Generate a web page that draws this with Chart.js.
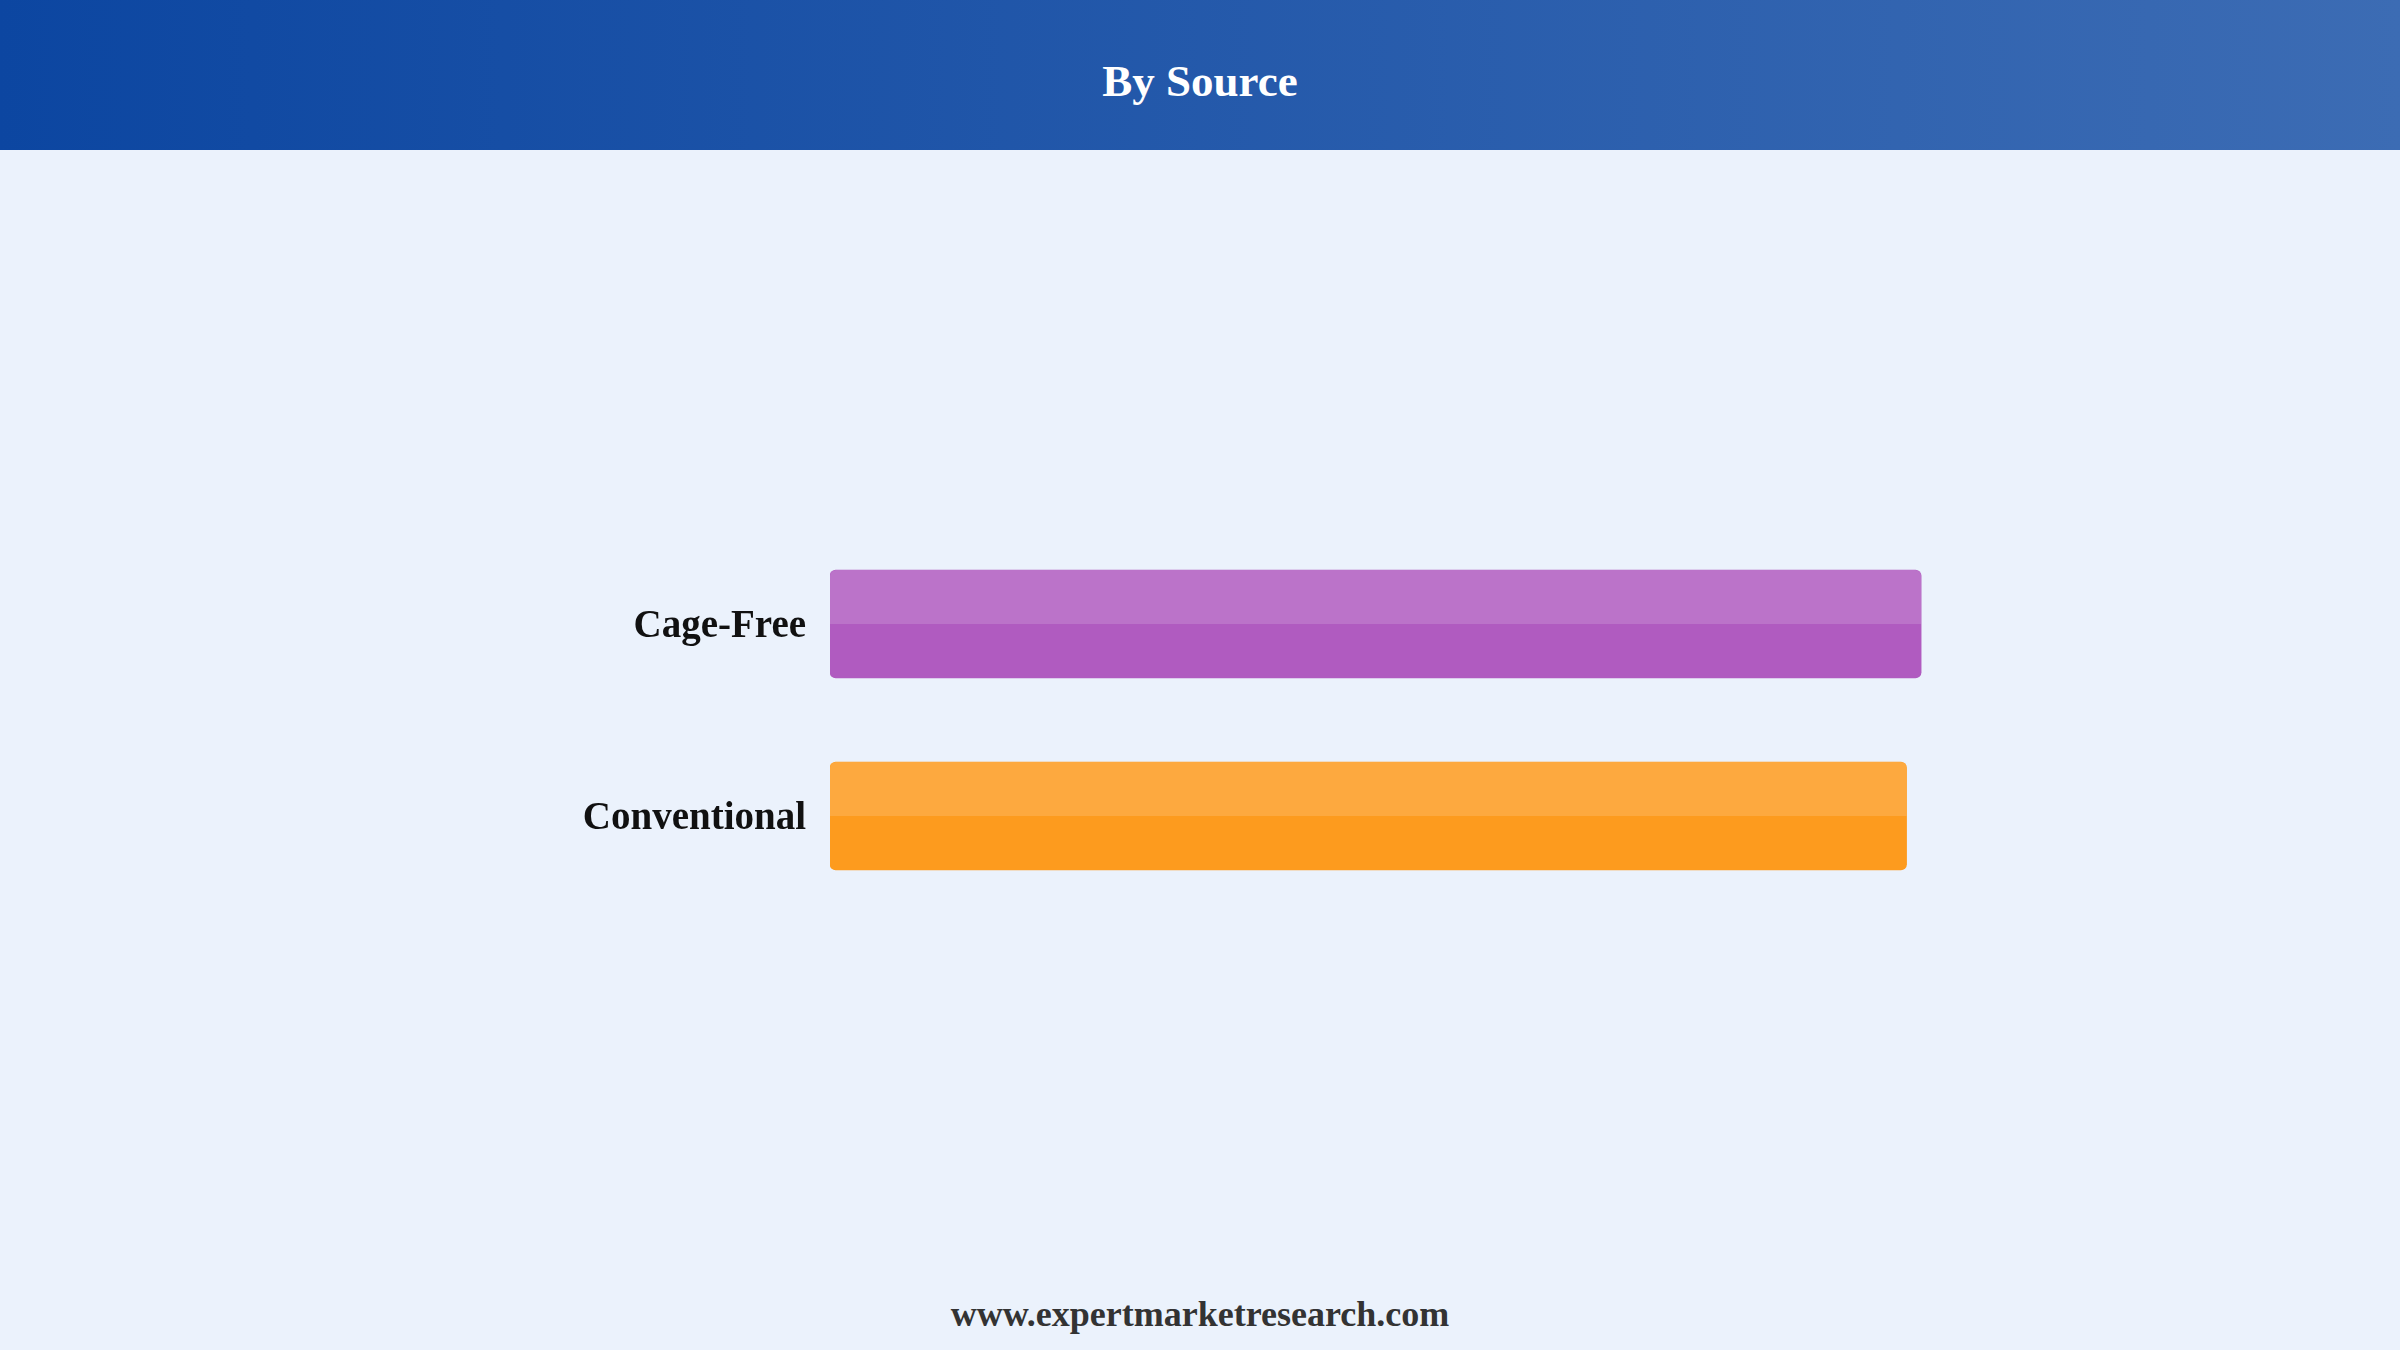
<!DOCTYPE html>
<html>
<head>
<meta charset="utf-8">
<script src="https://cdn.jsdelivr.net/npm/chart.js@4"></script>
<style>
html,body{margin:0;padding:0;width:2400px;height:1350px;background:#ebf2fc;overflow:hidden;font-family:"Liberation Serif","Times New Roman",serif}
#header{position:absolute;left:0;top:0;width:2400px;height:150px;background:linear-gradient(90deg,#0c46a1,#3c6cb4)}
#title{position:absolute;left:0;top:6px;width:2400px;height:150px;line-height:150px;text-align:center;color:#fff;font-size:45px;font-weight:bold}
#footer{position:absolute;left:0;top:1289px;width:2400px;line-height:50px;text-align:center;color:#333;font-size:36px;font-weight:bold}
#chart{position:absolute;left:0;top:0}
</style>
</head>
<body>
<div id="header"></div>
<div id="title">By Source</div>
<div id="footer">www.expertmarketresearch.com</div>
<canvas id="chart" width="2400" height="1350"></canvas>
<script>
const categories = ["Cage-Free", "Conventional"]
const shares = [52.5, 51.8]
const barColors = ["#b05bc0", "#fd9b1e"]

// lighter top half on each bar
const shine = {
    id: "shine",
    afterDatasetsDraw(chart){
        const ctx = chart.ctx
        chart.getDatasetMeta(0).data.forEach(bar => {
            const {x, y, base, height} = bar.getProps(["x","y","base","height"], true)
            const left = Math.min(base, x)
            const w = Math.abs(x - base)
            ctx.save()
            ctx.fillStyle = "rgba(255,255,255,0.15)"
            ctx.beginPath()
            ctx.roundRect(left, y - height/2, w, height/2, [6,6,0,0])
            ctx.fill()
            ctx.restore()
        })
    }
}

const ctx = document.getElementById("chart").getContext("2d")
new Chart(ctx, {
    type: "bar",
    data: {
        labels: categories,
        datasets: [{
            data: shares,
            backgroundColor: barColors,
            barThickness: 108,
            borderRadius: 6,
            borderSkipped: false
        }]
    },
    options: {
        indexAxis: "y",
        responsive: false,
        animation: false,
        layout: {padding: {top: 528, bottom: 438, left: 0, right: 323}},
        plugins: {legend: {display: false}, tooltip: {enabled: false}},
        scales: {
            x: {display: false, min: 0, max: 60},
            y: {
                grid: {display: false, drawTicks: false},
                border: {display: false},
                ticks: {color: "#111", padding: 24, labelOffset: 3, font: {family: "Liberation Serif", size: 39, weight: "bold"}},
                afterFit(s){ s.width = 830 }
            }
        }
    },
    plugins: [shine]
})
</script>
</body>
</html>
